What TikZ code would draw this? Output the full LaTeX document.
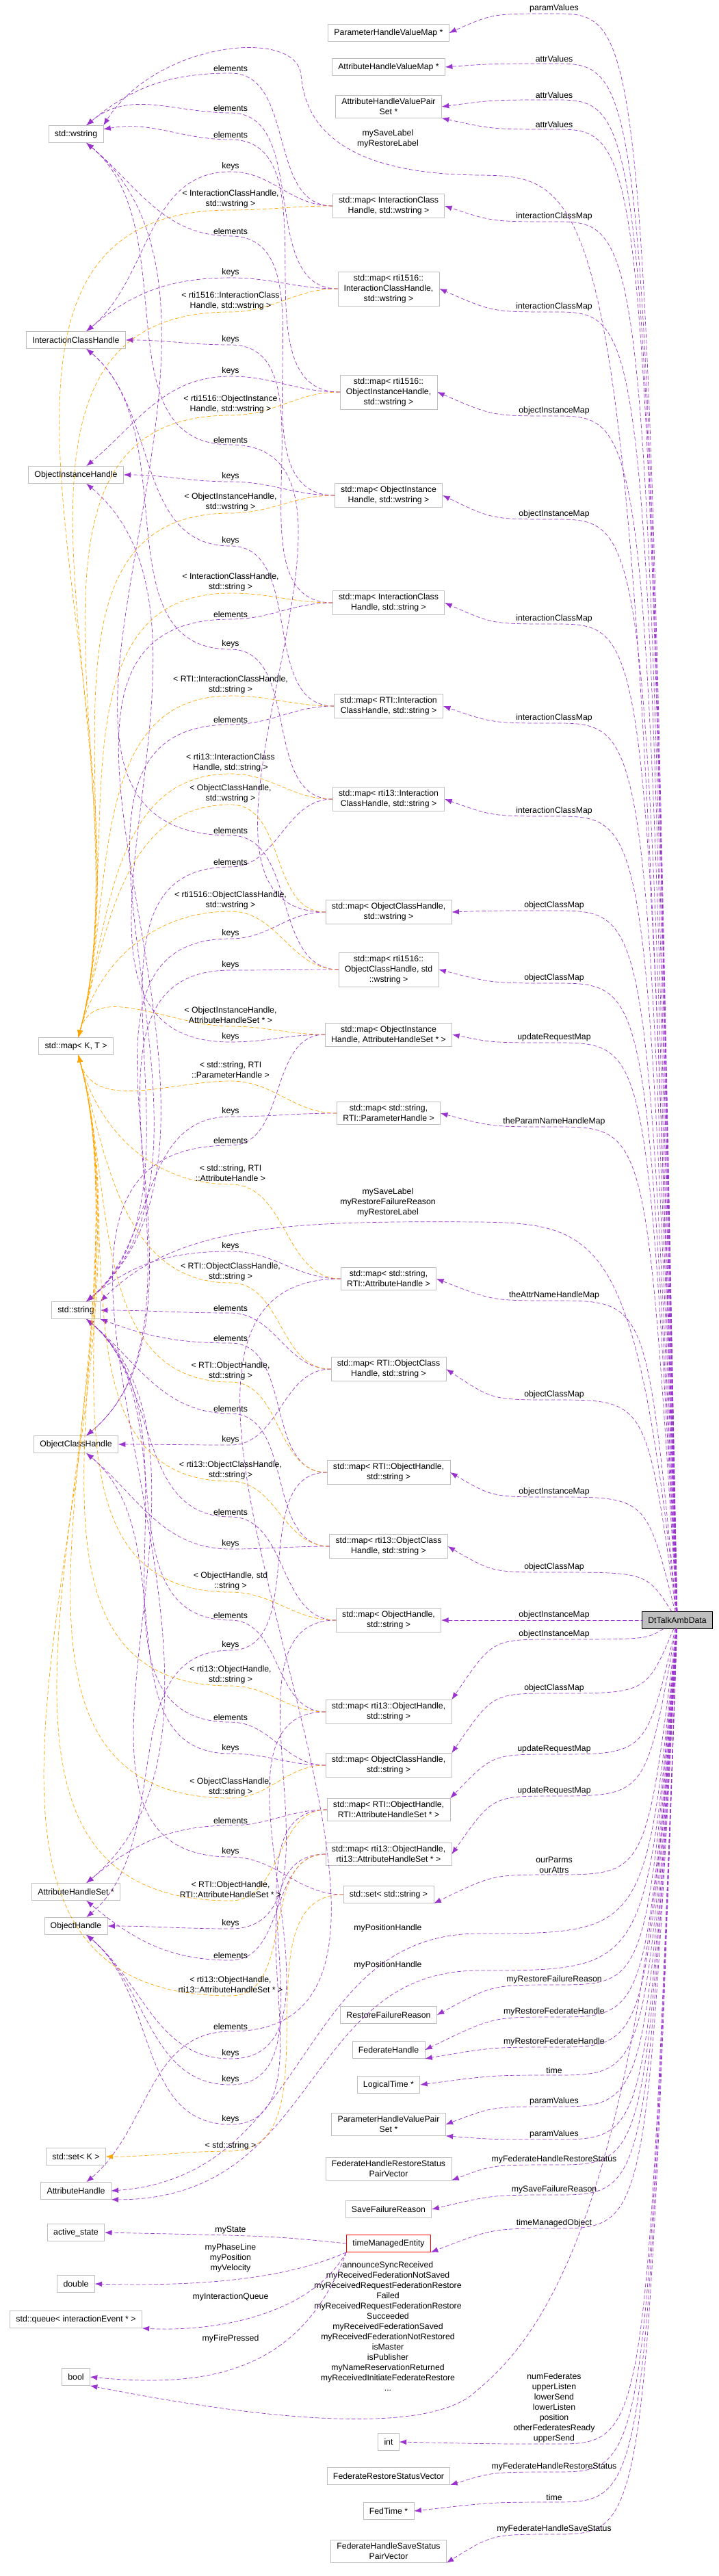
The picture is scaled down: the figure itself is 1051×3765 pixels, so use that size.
\documentclass[tikz,border=0pt]{standalone}
\usepackage{fontspec}
\setmainfont{Liberation Sans}
\usetikzlibrary{arrows.meta}
\definecolor{edgepurple}{HTML}{9A32CD}
\definecolor{tplorange}{HTML}{FFA500}
\definecolor{boxgray}{HTML}{BFBFBF}
\begin{document}
\begin{tikzpicture}
		[x=0.02cm,y=-0.02cm,line cap=round,
		%Styles
		cls/.style={draw=boxgray,fill=white,align=center,inner xsep=5pt,inner ysep=2.5pt,minimum height=0.5cm,font=\fontsize{7}{8.5}\selectfont},
		lbl/.style={align=center,inner sep=1pt,font=\fontsize{7}{8.5}\selectfont},
		member/.style={draw=edgepurple,dash pattern=on 3pt off 2pt,-{Latex[length=6pt,width=4.5pt]}},
		tpl/.style={draw=tplorange,dash pattern=on 3pt off 2pt,-{Latex[length=6pt,width=4.5pt]}}
		]
		\useasboundingbox (0,0) rectangle (1051,3765);
		
		%The graphic
		\node[cls,fill=boxgray,draw=black] (dt) at (990,2368) {DtTalkAmbData};
		
		\node[cls] (phvm) at (568,48) {ParameterHandleValueMap *};
		\node[cls] (ahvm) at (568,98) {AttributeHandleValueMap *};
		\node[cls] (ahvps) at (568,156) {AttributeHandleValuePair\\Set *};
		\node[cls] (mapICw) at (568,301) {std::map< InteractionClass\\Handle, std::wstring >};
		\node[cls] (mapRtiICw) at (568,422) {std::map< rti1516::\\InteractionClassHandle,\\std::wstring >};
		\node[cls] (mapRtiOIHw) at (568,573) {std::map< rti1516::\\ObjectInstanceHandle,\\std::wstring >};
		\node[cls] (mapOIHw) at (568,724) {std::map< ObjectInstance\\Handle, std::wstring >};
		\node[cls] (mapICs) at (568,881) {std::map< InteractionClass\\Handle, std::string >};
		\node[cls] (mapRTIICs) at (568,1032) {std::map< RTI::Interaction\\ClassHandle, std::string >};
		\node[cls] (mapR13ICs) at (568,1168) {std::map< rti13::Interaction\\ClassHandle, std::string >};
		\node[cls] (mapOCHw) at (568,1333) {std::map< ObjectClassHandle,\\std::wstring >};
		\node[cls] (mapRtiOCHw) at (568,1417) {std::map< rti1516::\\ObjectClassHandle, std\\::wstring >};
		\node[cls] (mapOIHahs) at (568,1512) {std::map< ObjectInstance\\Handle, AttributeHandleSet * >};
		\node[cls] (mapSParam) at (568,1627) {std::map< std::string,\\RTI::ParameterHandle >};
		\node[cls] (mapSAttr) at (568,1869) {std::map< std::string,\\RTI::AttributeHandle >};
		\node[cls] (mapRTIOCHs) at (568,2001) {std::map< RTI::ObjectClass\\Handle, std::string >};
		\node[cls] (mapRTIOHs) at (568,2152) {std::map< RTI::ObjectHandle,\\std::string >};
		\node[cls] (mapR13OCHs) at (568,2260) {std::map< rti13::ObjectClass\\Handle, std::string >};
		\node[cls] (mapOHs) at (568,2368) {std::map< ObjectHandle,\\std::string >};
		\node[cls] (mapR13OHs) at (568,2502) {std::map< rti13::ObjectHandle,\\std::string >};
		\node[cls] (mapOCHs) at (568,2580) {std::map< ObjectClassHandle,\\std::string >};
		\node[cls] (mapRTIOHahs) at (568,2645) {std::map< RTI::ObjectHandle,\\RTI::AttributeHandleSet * >};
		\node[cls] (mapR13OHahs) at (568,2710) {std::map< rti13::ObjectHandle,\\rti13::AttributeHandleSet * >};
		\node[cls] (setS) at (568,2769) {std::set< std::string >};
		\node[cls] (rfr) at (568,2945) {RestoreFailureReason};
		\node[cls] (fh) at (568,2996) {FederateHandle};
		\node[cls] (lt) at (568,3047) {LogicalTime *};
		\node[cls] (phvps) at (568,3105) {ParameterHandleValuePair\\Set *};
		\node[cls] (fhrspv) at (568,3170) {FederateHandleRestoreStatus\\PairVector};
		\node[cls] (sfr) at (568,3229) {SaveFailureReason};
		\node[cls,draw=red] (tme) at (568,3279) {timeManagedEntity};
		\node[cls] (int) at (568,3569) {int};
		\node[cls] (frsv) at (568,3619) {FederateRestoreStatusVector};
		\node[cls] (fedtime) at (568,3670) {FedTime *};
		\node[cls] (fhsspv) at (568,3729) {FederateHandleSaveStatus\\PairVector};
		
		\node[cls] (wstr) at (111,196) {std::wstring};
		\node[cls] (ich) at (111,497) {InteractionClassHandle};
		\node[cls] (oih) at (111,694) {ObjectInstanceHandle};
		\node[cls] (mapKT) at (111,1529) {std::map< K, T >};
		\node[cls] (str) at (111,1915) {std::string};
		\node[cls] (och) at (111,2111) {ObjectClassHandle};
		\node[cls] (ahs) at (111,2765) {AttributeHandleSet *};
		\node[cls] (oh) at (111,2815) {ObjectHandle};
		\node[cls] (setK) at (111,3152) {std::set< K >};
		\node[cls] (ah) at (111,3202) {AttributeHandle};
		\node[cls] (act) at (111,3263) {active\_state};
		\node[cls] (dbl) at (111,3338) {double};
		\node[cls] (queue) at (111,3390) {std::queue< interactionEvent * >};
		\node[cls] (bool) at (111,3474) {bool};
		
		% members of DtTalkAmbData
		\foreach \t/\l/\y in {phvm.east/paramValues/20, ahvm.east/attrValues/93, ahvps.east/attrValues/146,
				ahvps.south east/attrValues/189, mapICw.east/interactionClassMap/324, mapRtiICw.east/interactionClassMap/456,
				mapRtiOIHw.east/objectInstanceMap/608, mapOIHw.east/objectInstanceMap/759, mapICs.east/interactionClassMap/912,
				mapRTIICs.east/interactionClassMap/1057, mapR13ICs.east/interactionClassMap/1193, mapOCHw.east/objectClassMap/1331,
				mapRtiOCHw.east/objectClassMap/1437, mapOIHahs.east/updateRequestMap/1524, mapSParam.east/theParamNameHandleMap/1647,
				mapSAttr.east/theAttrNameHandleMap/1901, mapRTIOCHs.east/objectClassMap/2046, mapRTIOHs.east/objectInstanceMap/2188,
				mapR13OCHs.east/objectClassMap/2298, mapOHs.east/objectInstanceMap/2368, mapR13OHs.north east/objectInstanceMap/2396,
				mapOCHs.north east/objectClassMap/2475, mapRTIOHahs.north east/updateRequestMap/2564, mapR13OHahs.east/updateRequestMap/2625,
				setS.south east/{ourParms\\ourAttrs}/2740, rfr.east/myRestoreFailureReason/2901, fh.east/myRestoreFederateHandle/2948,
				fh.south east/myRestoreFederateHandle/2992, lt.east/time/3033, phvps.east/paramValues/3079,
				phvps.south east/paramValues/3127, fhrspv.south east/myFederateHandleRestoreStatus/3164, sfr.east/mySaveFailureReason/3208,
				tme.south east/timeManagedObject/3257, int.east/{numFederates\\upperListen\\lowerSend\\lowerListen\\position\\otherFederatesReady\\upperSend}/3572,
				frsv.south east/myFederateHandleRestoreStatus/3613, fedtime.east/time/3657, fhsspv.south east/myFederateHandleSaveStatus/3704}
		{
			\draw[member] (dt) .. controls (945,\y) .. (810,\y) .. controls (720,\y) .. (\t);
			\node[lbl,anchor=south] at (810,\y) {\l};
		}
		\draw[member] (dt) .. controls (930,270) and (880,258) .. (700,256) .. controls (470,254) and (445,160) .. (440,110) .. controls (435,40) and (230,60) .. (wstr.north east);
		\node[lbl] at (567,203) {mySaveLabel\\myRestoreLabel};
		\draw[member] (dt) .. controls (930,1810) and (880,1788) .. (700,1786) .. controls (420,1784) and (260,1790) .. (str.north east);
		\node[lbl] at (567,1757) {mySaveLabel\\myRestoreFailureReason\\myRestoreLabel};
		\draw[member] (dt) .. controls (945,2826) .. (700,2826) .. controls (430,2826) and (460,3180) .. (ah.east);
		\node[lbl,anchor=south] at (567,2826) {myPositionHandle};
		\draw[member] (dt) .. controls (945,2880) .. (700,2880) .. controls (440,2880) and (470,3215) .. (ah.south east);
		\node[lbl,anchor=south] at (567,2880) {myPositionHandle};
		\draw[member] (dt) .. controls (940,3300) and (760,3440) .. (690,3500) .. controls (600,3570) and (300,3520) .. (bool.south east);
		\node[lbl] at (567,3400) {announceSyncReceived\\myReceivedFederationNotSaved\\myReceivedRequestFederationRestore\\Failed\\myReceivedRequestFederationRestore\\Succeeded\\myReceivedFederationSaved\\myReceivedFederationNotRestored\\isMaster\\isPublisher\\myNameReservationReturned\\myReceivedInitiateFederateRestore\\...};
		
		% members of timeManagedEntity
		\draw[member] (tme.west) .. controls (400,3268) .. (act.east);
		\node[lbl,anchor=south] at (337,3267) {myState};
		\draw[member] (tme.south west) .. controls (420,3330) and (300,3342) .. (dbl.east);
		\node[lbl] at (337,3300) {myPhaseLine\\myPosition\\myVelocity};
		\draw[member] (tme.south west) .. controls (450,3390) and (300,3408) .. (queue.south east);
		\node[lbl,anchor=south] at (337,3365) {myInteractionQueue};
		\draw[member] (tme.south west) .. controls (440,3470) and (300,3490) .. (bool.east);
		\node[lbl,anchor=south] at (337,3426) {myFirePressed};
		
		% keys and elements
		\foreach \m/\t/\l/\y/\a in {mapICw/wstr/elements/98/40, mapRtiICw/wstr/elements/156/40, mapRtiOIHw/wstr/elements/195/10,
				mapOIHw/wstr/elements/336/-40, mapOCHw/wstr/elements/641/-40, mapRtiOCHw/wstr/elements/1212/-40,
				mapICs/str/elements/896/40, mapRTIICs/str/elements/1050/40, mapR13ICs/str/elements/1258/40,
				mapRTIOCHs/str/elements/1910/0, mapRTIOHs/str/elements/1954/-20, mapR13OCHs/str/elements/2057/-40,
				mapOHs/str/elements/2208/-40, mapR13OHs/str/elements/2359/-40, mapOCHs/str/elements/2508/-40,
				mapOIHahs/ahs/elements/1665/40, mapRTIOHahs/ahs/elements/2659/40, mapR13OHahs/ahs/elements/2856/-40,
				mapSAttr/ah/elements/2960/40,
				mapICw/ich/keys/242/40, mapRtiICw/ich/keys/397/40, mapICs/ich/keys/495/0, mapRTIICs/ich/keys/789/-40,
				mapR13ICs/ich/keys/940/-40, mapRtiOIHw/oih/keys/541/40, mapOIHw/oih/keys/695/0, mapOIHahs/oih/keys/1514/-40,
				mapOCHw/och/keys/1363/40, mapRtiOCHw/och/keys/1409/40, mapRTIOCHs/och/keys/2103/0, mapR13OCHs/och/keys/2255/-40,
				mapOCHs/och/keys/2554/-40, mapSParam/str/keys/1623/40, mapSAttr/str/keys/1820/40, setS/str/keys/2705/-40,
				mapRTIOHs/oh/keys/2403/40, mapOHs/oh/keys/2810/0, mapR13OHs/oh/keys/3000/-40, mapRTIOHahs/oh/keys/3038/-40,
				mapR13OHahs/oh/keys/3096/-40}
		{
			\draw[member] (\m.west) to[out=180,in=0] (337,\y+9) to[out=180,in=\a] (\t);
			\node[lbl,anchor=south] at (337,\y+9) {\l};
		}
		
		% template instances
		\foreach \m/\l/\y in {mapICw/{< InteractionClassHandle,\\std::wstring >}/291, mapRtiICw/{< rti1516::InteractionClass\\Handle, std::wstring >}/440,
				mapRtiOIHw/{< rti1516::ObjectInstance\\Handle, std::wstring >}/591, mapOIHw/{< ObjectInstanceHandle,\\std::wstring >}/734,
				mapICs/{< InteractionClassHandle,\\std::string >}/851, mapRTIICs/{< RTI::InteractionClassHandle,\\std::string >}/1001,
				mapR13ICs/{< rti13::InteractionClass\\Handle, std::string >}/1115, mapOCHw/{< ObjectClassHandle,\\std::wstring >}/1160,
				mapRtiOCHw/{< rti1516::ObjectClassHandle,\\std::wstring >}/1316, mapOIHahs/{< ObjectInstanceHandle,\\AttributeHandleSet * >}/1484}
		{
			\draw[tpl] (\m.west) to[out=180,in=0] (337,\y+16) to[out=180,in=75] (mapKT);
			\node[lbl] at (337,\y) {\l};
		}
		\foreach \m/\l/\y in {mapSParam/{< std::string, RTI\\::ParameterHandle >}/1564, mapSAttr/{< std::string, RTI\\::AttributeHandle >}/1715,
				mapRTIOCHs/{< RTI::ObjectClassHandle,\\std::string >}/1859, mapRTIOHs/{< RTI::ObjectHandle,\\std::string >}/2004,
				mapR13OCHs/{< rti13::ObjectClassHandle,\\std::string >}/2149, mapOHs/{< ObjectHandle, std\\::string >}/2311,
				mapR13OHs/{< rti13::ObjectHandle,\\std::string >}/2448, mapOCHs/{< ObjectClassHandle,\\std::string >}/2612,
				mapRTIOHahs/{< RTI::ObjectHandle,\\RTI::AttributeHandleSet * >}/2762, mapR13OHahs/{< rti13::ObjectHandle,\\rti13::AttributeHandleSet * >}/2901}
		{
			\draw[tpl] (\m.west) to[out=180,in=0] (337,\y+16) to[out=180,in=-75] (mapKT);
			\node[lbl] at (337,\y) {\l};
		}
		\draw[tpl] (setS.west) to[out=180,in=0] (337,3144) to[out=180,in=0] (setK.east);
		\node[lbl,anchor=south] at (337,3144) {< std::string >};
	\end{tikzpicture}
\end{document}
